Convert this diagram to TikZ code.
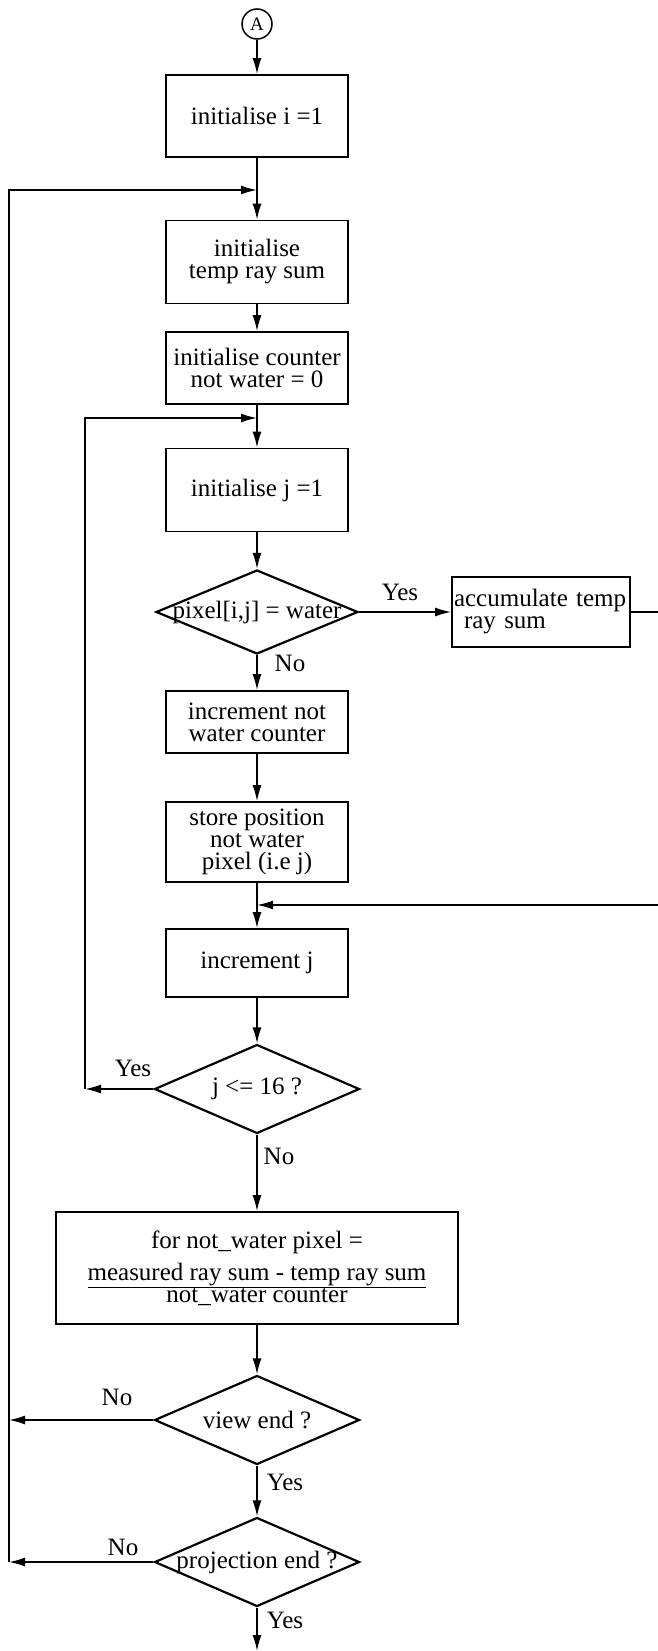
\documentclass[tikz,border=0pt]{standalone}
\usepackage{fontspec}
\setmainfont{Liberation Serif}
\usetikzlibrary{shapes.geometric,arrows.meta}

\newcommand{\chartfont}{\fontsize{25}{22}\selectfont}

\tikzset{
  proc/.style={draw, line width=1.7pt, minimum width=182pt, inner sep=2pt, align=center, font=\chartfont},
  test/.style={draw, diamond, line width=2.2pt, minimum width=205pt, minimum height=89pt, inner sep=0pt, font=\chartfont},
  flow/.style={line width=1.6pt, -{Latex[length=16pt,width=9pt]}},
  lbl/.style={inner sep=0pt, font=\chartfont},
}

\begin{document}
\begin{tikzpicture}[x=1pt,y=-1pt]
\useasboundingbox (0,0) rectangle (657,1651);

\node[circle, draw, line width=1.5pt, minimum size=30pt, inner sep=0pt, font=\fontsize{19}{19}\selectfont] (conA) at (257,24) {A};
\node[proc, minimum height=82pt] (initI) at (257,116) {initialise i =1};
\node[proc, minimum height=83pt] (initSum) at (257,262) {initialise\\temp ray sum};
\node[proc, minimum height=72pt] (initCnt) at (257,368) {initialise counter\\not water = 0};
\node[proc, minimum height=83pt] (initJ) at (257,490) {initialise j =1};
\node[test, minimum width=202pt, minimum height=84pt] (isWater) at (257,612) {\makebox[0pt]{pixel[i,j] = water}};
\node[proc, minimum width=178pt, text width=174pt, minimum height=70pt, align=left] (accSum) at (541,612) {accumulate temp\\\hspace*{10pt}ray sum};
\node[proc, minimum height=62pt] (incCnt) at (257,722) {increment not\\water counter};
\node[proc, minimum height=80pt] (storePos) at (257,842) {store position\\not water\\pixel (i.e j)};
\node[proc, minimum height=68pt] (incJ) at (257,963) {increment j};
\node[test] (jLoop) at (257,1089) {\makebox[0pt]{j <= 16 ?}};
\node[proc, minimum width=402pt, minimum height=112pt] (notWater) at (257,1268) {for not\_water pixel =\\[8pt]\underline{measured ray sum - temp ray sum}\\not\_water counter};
\node[test] (viewEnd) at (257,1420) {\makebox[0pt]{view end ?}};
\node[test] (projEnd) at (257,1562) {\makebox[0pt]{projection end ?}};

\coordinate (outerJoin) at (257,190);
\coordinate (innerJoin) at (257,418);
\coordinate (retJoin) at (257,905);
\coordinate (outerCorner) at (9,1562);
\coordinate (innerCorner) at (85,1089);
\coordinate (rightCorner) at (680,612);
\coordinate (finalEnd) at (257,1651);

\draw[flow] (conA) -- (initI);
\draw[flow] (initI) -- (initSum);
\draw[flow] (initSum) -- (initCnt);
\draw[flow] (initCnt) -- (initJ);
\draw[flow] (initJ) -- (isWater);
\draw[flow] (isWater) -- (accSum);
\draw[flow] (isWater) -- (incCnt);
\draw[flow] (incCnt) -- (storePos);
\draw[flow] (storePos) -- (incJ);
\draw[flow] (incJ) -- (jLoop);
\draw[flow] (jLoop) -- (notWater);
\draw[flow] (notWater) -- (viewEnd);
\draw[flow] (viewEnd) -- (projEnd);
\draw[flow] (projEnd) -- (finalEnd);

% loops back
\draw[flow] (accSum.east) -- (rightCorner) |- (retJoin);
\draw[flow] (jLoop.west) -- (innerCorner);
\draw[flow] (innerCorner) |- (innerJoin);
\draw[flow] (viewEnd.west) -- (viewEnd.west -| outerCorner);
\draw[flow] (projEnd.west) -- (outerCorner);
\draw[flow] (outerCorner) |- (outerJoin);

\node[lbl] (yesWater) at (400,592) {Yes};
\node[lbl] (noWater) at (290,663) {No};
\node[lbl] (yesJ) at (133,1068) {Yes};
\node[lbl] (noJ) at (279,1156) {No};
\node[lbl] (noView) at (117,1397) {No};
\node[lbl] (yesView) at (285,1482) {Yes};
\node[lbl] (noProj) at (123,1547) {No};
\node[lbl] (yesProj) at (285,1620) {Yes};
\end{tikzpicture}
\end{document}
